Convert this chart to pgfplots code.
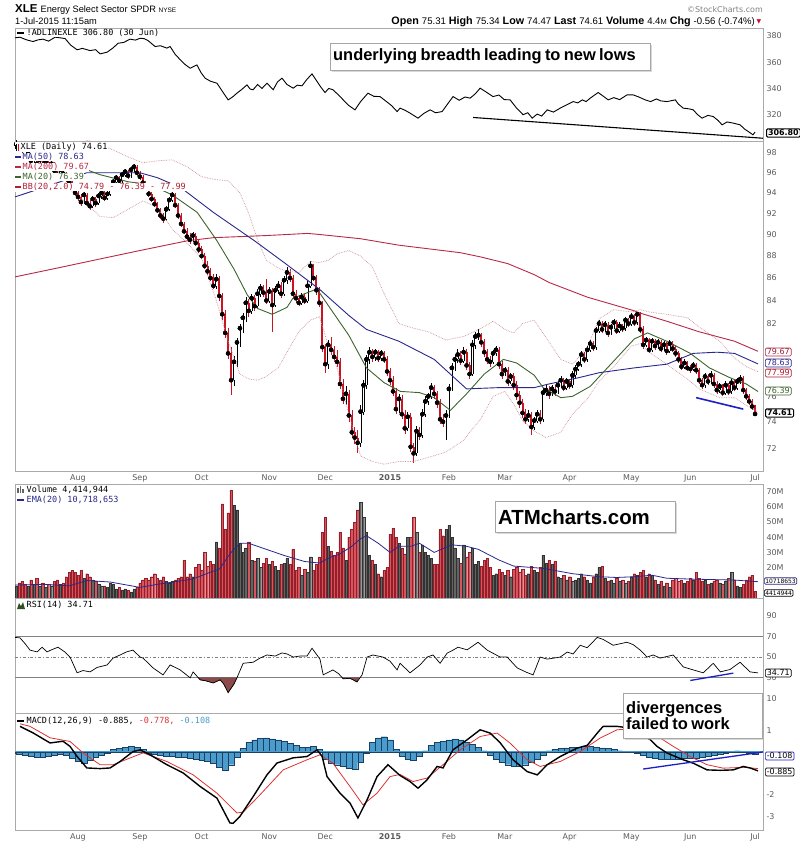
\documentclass[border=0pt]{standalone}
\usepackage{pgfplots}
\pgfplotsset{compat=1.18}
\usepackage{pgfplotstable}
\usepackage{fontspec}
\setmainfont{Liberation Sans}
\newfontfamily\dv{DejaVu Sans}
\newfontfamily\dvm{DejaVu Sans Mono}
\newfontfamily\lib{Liberation Sans}
\usetikzlibrary{shapes.symbols,shadows}
\newcommand{\tickf}{\dv\fontsize{8}{9}\selectfont}
\newcommand{\legf}{\dvm\fontsize{8.5}{10}\selectfont}
\definecolor{ma50}{RGB}{40,40,140}
\definecolor{ma200}{RGB}{185,40,70}
\definecolor{ma20}{RGB}{60,100,45}
\definecolor{bbc}{RGB}{205,140,150}
\definecolor{bbt}{RGB}{176,30,50}
\definecolor{cred}{RGB}{200,20,35}
\definecolor{vred}{RGB}{215,85,95}
\definecolor{vredd}{RGB}{150,30,40}
\definecolor{vgray}{RGB}{100,100,100}
\definecolor{vgrayd}{RGB}{50,50,50}
\definecolor{histc}{RGB}{75,155,205}
\definecolor{histd}{RGB}{25,65,100}
\definecolor{rsifill}{RGB}{140,75,75}
\definecolor{tickc}{RGB}{90,90,90}
\definecolor{framec}{RGB}{170,170,170}
\definecolor{trend}{RGB}{30,30,200}
\definecolor{sigc}{RGB}{220,50,50}

\pgfplotstableread{
i o h l c v
0 98.3 99.0 98.0 98.6 9
1 98.6 99.3 98.3 98.9 8
2 98.9 99.1 98.1 98.4 10
3 98.4 98.6 97.5 97.8 11
4 97.8 98.0 97.2 97.5 9
5 97.5 98.2 97.3 97.9 8
6 97.9 98.0 96.9 97.2 12
7 97.2 97.9 97.0 97.6 9
8 97.6 97.8 96.6 96.9 13
9 96.9 97.6 96.7 97.3 8
10 97.3 97.5 96.5 96.8 10
11 96.8 97.4 96.6 97.1 7
12 97.1 97.3 96.2 96.5 9
13 96.5 97.2 96.3 96.9 8
14 96.9 97.1 95.9 96.2 11
15 96.2 96.5 95.5 95.8 12
16 95.8 96.6 95.6 96.3 9
17 96.3 96.5 95.6 95.9 10
18 95.9 96.1 95.1 95.4 14
19 95.4 95.7 94.8 95.1 17
20 95.1 95.3 94.3 94.6 18
21 94.6 94.9 93.7 94.0 17
22 94.0 94.3 93.2 93.6 15
23 93.6 93.9 92.7 93.1 18
24 93.1 94.1 92.9 93.8 13
25 93.8 94.0 92.7 93.0 16
26 93.0 93.3 92.3 92.7 14
27 92.7 93.7 92.5 93.4 12
28 93.4 93.6 92.6 93.0 11
29 93.0 94.0 92.8 93.7 9
30 93.7 94.3 93.4 94.0 8
31 94.0 94.2 93.2 93.5 8
32 93.5 94.2 93.3 93.9 7
33 93.9 94.8 93.7 94.5 10
34 94.5 95.4 94.3 95.1 9
35 95.1 95.8 94.9 95.5 6
36 95.5 95.7 94.9 95.2 7
37 95.2 96.1 95.0 95.8 5
38 95.8 96.4 95.6 96.1 6
39 96.1 96.3 95.4 95.7 5
40 95.7 96.6 95.5 96.3 4
41 96.3 96.9 96.1 96.6 6
42 96.6 96.8 95.7 96.0 7
43 96.0 96.2 95.3 95.6 10
44 95.6 95.8 94.7 95.0 12
45 95.0 95.2 94.2 94.5 13
46 94.5 94.7 93.6 93.9 12
47 93.9 94.1 93.1 93.4 14
48 93.4 93.6 92.6 92.9 16
49 92.9 93.1 92.0 92.3 13
50 92.3 92.5 91.5 91.8 12
51 91.8 92.0 91.1 91.5 14
52 91.5 92.7 91.3 92.4 11
53 92.4 93.6 92.2 93.3 10
54 93.3 94.1 93.1 93.8 11
55 93.8 94.0 92.5 92.8 12
56 92.8 93.0 91.5 91.8 13
57 91.8 92.0 90.7 91.0 14
58 91.0 91.2 90.0 90.3 25
59 90.3 90.6 89.5 89.8 14
60 89.8 90.1 89.1 89.5 16
61 89.5 90.2 89.3 89.9 14
62 89.9 90.1 88.9 89.2 20
63 89.2 89.5 88.3 88.6 22
64 88.6 88.9 87.7 88.0 18
65 88.0 88.3 86.8 87.1 30
66 87.1 87.5 86.3 86.6 21
67 86.6 86.9 85.7 86.0 24
68 86.0 86.4 85.0 85.3 22
69 85.3 86.4 85.0 85.9 37
70 85.9 86.2 84.0 84.4 33
71 84.4 84.7 82.3 82.8 62
72 82.8 83.2 80.8 81.2 45
73 81.2 81.6 79.0 79.5 56
74 79.5 80.0 76.1 77.3 71
75 77.3 79.3 76.8 78.8 61
76 78.8 80.8 78.4 80.4 58
77 80.4 82.0 80.0 81.6 36
78 81.6 82.9 81.2 82.5 30
79 82.5 84.3 82.1 83.8 33
80 83.8 84.1 82.6 83.1 37
81 83.1 84.6 82.8 84.2 25
82 84.2 84.5 83.1 83.5 24
83 83.5 85.0 83.3 84.6 26
84 84.6 85.5 84.3 85.1 20
85 85.1 85.4 84.3 84.7 23
86 84.7 85.9 83.7 84.0 26
87 84.0 85.2 83.8 84.8 22
88 84.8 85.1 81.3 83.6 24
89 83.6 85.3 83.4 84.9 21
90 84.9 85.7 84.6 85.3 18
91 85.3 85.6 84.2 84.6 22
92 84.6 86.2 84.4 85.8 23
93 85.8 87.0 85.5 86.5 26
94 86.5 86.8 85.6 86.0 22
95 86.0 86.3 84.2 84.6 32
96 84.6 84.9 83.8 84.2 18
97 84.2 84.5 83.5 83.8 20
98 83.8 84.7 83.6 84.3 15
99 84.3 84.6 83.7 84.0 19
100 84.0 85.7 83.8 85.3 17
101 85.3 87.5 85.1 87.1 27
102 87.1 87.3 85.7 86.0 18
103 86.0 86.3 84.5 84.9 22
104 84.9 85.2 83.4 83.8 27
105 83.8 84.0 79.6 80.0 43
106 80.0 80.3 77.9 78.6 53
107 78.6 80.6 78.2 80.2 34
108 80.2 80.9 79.4 79.8 31
109 79.8 80.1 78.8 79.2 28
110 79.2 79.8 78.4 78.8 30
111 78.8 79.1 76.6 77.0 43
112 77.0 77.4 75.4 75.8 33
113 75.8 76.8 75.3 76.2 25
114 76.2 76.5 74.0 74.5 40
115 74.5 74.9 72.8 73.2 45
116 73.2 73.6 72.3 72.8 50
117 72.8 73.4 71.6 72.4 58
118 72.4 75.3 72.1 74.8 63
119 74.8 77.3 74.5 76.9 53
120 76.9 79.4 76.6 79.0 43
121 79.0 80.0 78.6 79.6 28
122 79.6 79.9 78.8 79.2 25
123 79.2 79.9 78.9 79.6 22
124 79.6 79.8 78.8 79.1 16
125 79.1 79.8 78.9 79.5 14
126 79.5 79.7 78.7 79.0 18
127 79.0 79.3 77.6 78.0 20
128 78.0 78.3 76.9 77.3 42
129 77.3 77.6 76.0 76.4 46
130 76.4 76.7 74.6 75.0 40
131 75.0 76.2 74.7 75.8 36
132 75.8 76.1 74.2 74.6 33
133 74.6 74.9 73.1 73.5 29
134 73.5 74.8 73.3 74.4 40
135 74.4 74.7 71.7 72.1 40
136 72.1 72.4 70.9 71.6 53
137 71.6 73.7 71.4 73.3 43
138 73.3 73.6 72.6 73.0 30
139 73.0 75.0 72.8 74.6 35
140 74.6 76.0 74.4 75.6 30
141 75.6 76.3 75.3 76.0 28
142 76.0 77.1 75.8 76.7 26
143 76.7 76.9 75.8 76.2 22
144 76.2 76.4 75.1 75.5 22
145 75.5 75.8 73.8 74.2 45
146 74.2 74.6 73.6 74.0 41
147 74.0 74.9 72.6 74.5 45
148 74.5 77.0 74.3 76.6 48
149 76.6 78.7 76.4 78.3 40
150 78.3 79.4 78.0 79.0 33
151 79.0 79.9 78.7 79.4 26
152 79.4 79.7 78.5 78.9 23
153 78.9 80.0 78.7 79.6 35
154 79.6 79.9 78.1 78.5 27
155 78.5 78.8 77.4 77.8 30
156 77.8 80.6 77.6 80.2 33
157 80.2 81.3 79.9 80.9 22
158 80.9 81.5 80.6 81.0 24
159 81.0 81.2 80.0 80.4 21
160 80.4 80.7 79.2 79.6 25
161 79.6 79.9 78.6 79.0 26
162 79.0 79.3 78.4 78.8 20
163 78.8 79.8 78.6 79.5 15
164 79.5 80.1 79.3 79.8 16
165 79.8 80.0 78.2 78.6 19
166 78.6 78.9 77.4 77.8 17
167 77.8 78.4 77.6 78.1 15
168 78.1 78.4 76.8 77.2 18
169 77.2 77.9 77.0 77.6 14
170 77.6 77.9 76.5 76.9 19
171 76.9 77.2 75.7 76.1 20
172 76.1 76.4 75.1 75.5 17
173 75.5 75.8 74.3 74.7 19
174 74.7 75.0 73.8 74.2 15
175 74.2 74.9 74.0 74.5 16
176 74.5 74.8 73.0 73.6 21
177 73.6 74.4 73.4 74.1 18
178 74.1 74.9 73.9 74.6 17
179 74.6 74.9 73.8 74.2 20
180 74.2 76.7 74.0 76.3 28
181 76.3 76.9 76.0 76.5 23
182 76.5 76.8 75.8 76.2 25
183 76.2 76.9 76.0 76.6 22
184 76.6 76.9 76.0 76.4 24
185 76.4 77.2 76.2 76.9 14
186 76.9 77.6 76.7 77.3 13
187 77.3 77.5 76.4 76.7 15
188 76.7 77.5 76.5 77.2 12
189 77.2 77.4 76.6 76.9 14
190 76.9 78.0 76.7 77.7 11
191 77.7 78.5 77.5 78.2 12
192 78.2 78.9 78.0 78.6 13
193 78.6 79.7 78.4 79.4 16
194 79.4 79.6 78.7 79.0 14
195 79.0 80.1 78.8 79.8 12
196 79.8 80.6 79.6 80.3 10
197 80.3 80.5 79.7 80.0 14
198 80.0 81.7 79.8 81.4 16
199 81.4 82.3 81.2 82.0 20
200 82.0 82.2 81.2 81.5 21
201 81.5 82.2 81.3 81.9 13
202 81.9 82.1 80.9 81.2 11
203 81.2 82.0 81.0 81.7 12
204 81.7 82.4 81.5 82.1 10
205 82.1 82.3 81.1 81.4 13
206 81.4 82.1 81.2 81.8 11
207 81.8 82.0 81.3 81.6 12
208 81.6 82.6 81.4 82.3 10
209 82.3 82.5 81.7 82.0 11
210 82.0 82.9 81.8 82.6 14
211 82.6 82.8 81.8 82.1 16
212 82.1 83.0 81.9 82.8 15
213 82.8 83.0 81.2 81.5 17
214 81.5 81.8 79.9 80.2 18
215 80.2 80.9 80.0 80.6 14
216 80.6 80.8 79.5 79.8 16
217 79.8 80.8 79.6 80.5 15
218 80.5 80.7 79.8 80.1 12
219 80.1 80.7 79.9 80.4 9
220 80.4 80.6 79.6 79.9 11
221 79.9 80.5 79.7 80.2 8
222 80.2 80.4 79.4 79.7 10
223 79.7 80.6 79.5 80.3 7
224 80.3 80.5 79.6 79.9 12
225 79.9 80.1 79.2 79.5 13
226 79.5 79.7 78.7 79.0 11
227 79.0 79.2 78.1 78.4 12
228 78.4 79.0 78.2 78.7 10
229 78.7 78.9 78.0 78.3 11
230 78.3 78.5 77.9 78.2 13
231 78.2 78.8 78.0 78.5 12
232 78.5 78.7 77.8 78.1 17
233 78.1 78.3 77.0 77.3 13
234 77.3 77.5 76.6 76.9 11
235 76.9 77.9 76.7 77.6 12
236 77.6 77.8 76.9 77.2 9
237 77.2 78.0 77.0 77.7 10
238 77.7 77.9 76.7 77.0 11
239 77.0 77.2 76.2 76.5 12
240 76.5 77.1 76.3 76.8 10
241 76.8 77.0 76.0 76.3 9
242 76.3 77.2 76.1 76.9 11
243 76.9 77.1 76.1 76.4 13
244 76.4 77.4 76.2 77.1 17
245 77.1 77.3 76.4 76.7 12
246 76.7 77.5 76.5 77.2 8
247 77.2 77.7 77.0 77.4 7
248 77.4 77.6 76.2 76.5 9
249 76.5 76.7 75.7 76.0 12
250 76.0 76.2 75.3 75.6 14
251 75.6 75.8 74.9 75.2 15
252 75.31 75.34 74.47 74.61 4.4
}\px

\pgfplotstableread{
i v
0.6 378.5
2.3 379
4.5 377
6.7 375.7
8.5 377
10.1 377.5
12 376
14.2 379
16 378.5
17.6 378
19.5 373
21.7 369.4
23.5 370.5
26.1 368.8
28 369.5
29.5 366.3
31.9 367.6
34 371
35.6 374.4
37.5 375
39.7 377.5
41.5 376.8
43.1 378.2
44.5 377.9
45.8 376.4
48.2 371.9
50 372.5
52.2 370.7
53.3 371.9
55 366
57.3 360.5
58.5 358
60.1 355.4
62.4 357.9
63.8 352
65.2 347.8
67 345.5
69.2 344
71 338
73 331.3
74.5 333.5
76 336.4
77.5 339
79.4 342.7
80.5 339.5
81.5 339
83 343
84.5 340
86.2 344
88.3 339
89.8 345
91.3 347.8
93 343
95.1 340.2
96.5 342.5
98.1 342
99.8 347
101.5 351.1
103 346
104.5 341
105.9 336.9
107.2 340
108.6 339
110.5 335
112.1 331.3
114 327
116.1 323.7
118 330
120.5 336.4
122.5 334
124.6 333.8
126.5 330.5
128.5 327
130.4 322.4
131.4 325
133 323.5
134.8 321.2
137.5 317.4
139.5 321
141.6 323.7
143.5 321.5
145.7 322.4
147.5 328
149.4 333.8
151.5 331
153.5 333.5
155.2 332.6
157 336
158.6 340.2
160.5 337.5
163 333.8
165 335
166.8 331.5
168.8 331.3
171 325
173.2 320
174.8 321.5
176.3 317.4
178 320.5
179.5 319
181.4 323.7
183.5 322
185.8 325
188 327.5
190.2 330
191.8 329
193.3 331.3
194.6 330
196 332.6
198.7 336.9
200.5 334
202.1 331.3
204 333
206 331.5
208.5 335.1
210.6 335.1
212.5 333.5
214.7 331.3
216.5 330
218.5 332
220 330.5
222.1 330
224.9 331.3
226 328
227.6 325
229.5 324.5
231 323.7
232.5 320
234 317.4
236 319.5
237.8 318.6
239.5 315.5
240.8 312.3
242.5 314.5
244.6 313.6
246.9 312.3
248.5 309
249.7 307.2
251.3 304.7
252 306.8
}\adl

\pgfplotstableread{
i v
0.6 86.1
15 86.9
29 87.7
43 88.5
59 89.4
68 89.7
86 89.9
100 90.1
104 90.0
118 89.6
131 89.0
152 88.3
159 87.9
168 87.3
177 86.3
182 85.6
195 84.3
211 83.1
213 82.9
222 82.2
233 81.3
245 80.5
253 79.67
}\mtwo

\pgfplotstableread{
i v
0.6 93.6
10 94.5
25 96.0
43 96.0
49 95.5
57 94.5
68 92.1
82 89.4
92 87.4
104 85.0
114 82.7
120 81.5
131 80.5
143 79.0
154 76.6
165 76.7
177 76.7
182 77.0
192 77.5
199 77.9
211 78.3
222 78.6
231 79.5
239 79.6
245 79.5
253 78.63
}\mfif

\pgfplotstableread{
i v
19 96.9
24 96.4
29.5 95.8
39 95.1
46.5 94.8
54 93.8
62.5 92.1
69 89.5
75 86.8
79.5 84.5
83 83.3
88 82.8
93 83.4
95 84.2
103 85.0
104 84.7
108 83.2
114 81.0
120 78.3
126 77.1
131.5 76.4
138 76.3
143 75.9
148.5 74.9
154 76.2
160 77.8
166.5 79.0
171 78.7
177 77.7
180 76.7
186 75.9
190 76.0
196 76.8
203 78.6
211 80.7
215.5 81.2
222 80.5
230 79.5
236.5 78.3
243.5 77.5
249 77.0
253 76.39
}\mtw

\pgfplotstableread{
i u l
19 99.6 94.4
24 99.4 93.2
29.5 98.9 91.7
34 98.3 91.6
39 97.6 92.4
44 97.0 93.2
49 97.2 92.6
54 97.3 90.5
59 96.6 89.2
64 95.6 87.8
69 95.3 84.0
73 95.2 80.5
77 94.0 77.8
80 92.0 77.4
83 89.5 77.3
86 87.6 77.6
90 86.9 78.3
93 86.6 79.6
97 86.5 81.3
101 87.5 82.3
104 87.4 82.6
107 87.6 80.2
110 88.2 78.3
114 88.5 74.6
118 88.0 71.4
122 87.0 71.0
126 84.6 70.8
131 82.0 71.0
136 81.6 71.0
141 81.3 71.3
147 80.6 71.7
153 80.9 72.6
159 81.6 74.3
163 82.2 76.0
167 81.5 76.4
170 81.2 75.4
173 82.0 74.1
177 82.3 73.3
181 80.8 72.8
186 79.0 73.2
190 78.6 74.6
195 80.0 75.8
199 82.4 77.2
204 83.2 78.4
210 83.0 80.1
213 83.2 80.3
216 83.0 79.6
222 82.8 78.6
229 82.5 77.4
233 81.7 76.6
240 80.5 75.9
245 79.1 75.9
249 78.4 75.3
253 77.99 74.79
}\bb

\pgfplotstableread{
i v
0.6 8.5
10 9.0
19 8.0
25 11.5
33 10.5
43 7.0
49 9.0
56 11.0
61 12.5
67 17
70 19
74 30
77 36
80 36
86 32
92 28
99 24
104 23
108 27
111 29
115 34
118 39
120 41
124 36
128 30
131 34
135 34
138 36
143 30
149 35
154 34
158 32
165 25
170 21
180 19.5
190 16
199 14
205 13.5
211 14
217 15
222 13
231 12.4
245 11.8
253 10.72
}\ema

\pgfplotstableread{
i v
0.6 69
2.3 68.5
4 63
5.7 56.7
8.1 55
9.8 59.5
11.5 55
13 57
15.2 59.5
17.5 55
19.3 50
21.7 34.8
23.7 37
26.1 35.7
28.5 40
31.9 42.4
33.9 49
36.3 52
38.5 55
40.7 56.7
43.1 50
44.1 49
47.5 39.5
50.9 32.8
53.3 42.4
56.7 37.6
60.1 30
61.1 35.7
63.5 28
65.5 27
67.9 25
70.3 28
71.5 24
73 15.7
75 24
76 30
78.1 44
81.5 45
83.8 49
86.2 52
89 51
91.3 54
93 53
95.1 50
97.5 51
99.8 51
101.5 58.5
104.2 48
105.3 32.8
108.6 37.6
110.5 34
112.1 29
114.4 29.5
116.8 26
118.5 32.8
120.2 50
122.2 52
125.6 50
128 46
130.4 37.6
131.4 44
134.8 34.8
138.2 42.4
140.6 50
142.6 52
145 44
147.4 53.8
149.4 56.7
151.1 59.5
154.2 57
157.9 64.3
161 56.7
165.4 50
167.8 50
171.2 39.5
174.6 35
176.6 32.8
179 50
181.4 48
185.8 50
188.2 54.8
190.2 53
192.6 61.4
195 59
198.4 69
200.4 67
203.8 61.4
208.5 64.3
210.6 62
213 56.7
215.3 50
217.4 52
219.8 49
224.2 52
227.6 40.5
231 37.6
234.4 34.8
237.8 44
240.2 35.7
243.5 38
246.9 45
250.3 35.7
253 34.71
}\rsi

\pgfplotstableread{
i v
2.3 1.18
6.7 0.88
12.5 0.41
16.9 0.49
19.3 0.25
21.7 -0.22
25 -0.75
29.5 -0.78
32.9 -0.75
36.3 -0.45
40.7 0.01
43.1 0.09
46.5 -0.14
52.2 -0.6
57.7 -0.98
63.5 -1.61
69.2 -2.15
73.6 -3.3
74.7 -3.32
77 -3.0
81.5 -2.08
86.2 -1.07
89.6 -0.52
95.1 -0.28
99.8 -0.22
103.2 0.09
104.9 -0.2
106.6 -1.15
111 -1.92
114.4 -2.38
117.1 -3.07
120.2 -2.23
123.6 -1.15
127.3 -0.6
131.4 -1.1
134.8 -1.38
137.5 -1.69
140.6 -1.3
144 -0.68
146 -0.75
149.4 0.09
154.2 0.56
158.6 1.02
162 0.87
165.4 0.42
169.8 -0.37
174.6 -0.92
178 -1.07
181.4 -0.6
185.8 -0.22
191.5 0.17
195 0.3
198.4 0.87
200.4 1.18
205.1 1.18
209.6 1.1
216.4 0.56
218.7 0.25
222.1 -0.06
227.6 -0.37
231 -0.53
235.7 -0.84
240.2 -0.86
244.6 -0.84
248 -0.68
250.3 -0.75
253 -0.885
}\macd

\pgfplotstableread{
i v
2.3 1.3
5.7 1.18
12.5 0.65
19.3 0.48
23.7 -0.05
29.5 -0.6
33.9 -0.6
44.1 -0.05
52.2 -0.45
61.1 -1.07
69.2 -1.92
76 -2.84
78.1 -2.8
83.8 -2.0
91.7 -0.84
99.8 -0.37
104.2 -0.14
108.6 -0.53
114.4 -1.61
118.8 -2.46
123.6 -1.92
128 -1.15
131.4 -1.05
135.8 -1.38
140.6 -1.22
146 -0.6
151.8 0.09
158.6 0.71
164.4 0.87
168.8 0.4
174.6 -0.37
179 -0.68
185.8 -0.45
192.6 0.01
199.4 0.64
205.1 1.02
213 1.1
219.8 0.64
224.2 0.25
230 -0.22
235.7 -0.6
241.2 -0.76
248 -0.72
253 -0.778
}\sig

\pgfplotstableread{
i v
0 -0.05
2 -0.1
4 -0.15
6 -0.2
8 -0.25
10 -0.25
12 -0.2
14 -0.15
16 -0.1
18 -0.15
20 -0.3
22 -0.45
24 -0.55
26 -0.4
28 -0.25
30 -0.15
32 -0.05
34 0.1
36 0.15
38 0.2
40 0.25
42 0.2
44 0.1
46 -0.05
48 -0.1
50 -0.15
52 -0.2
54 -0.2
56 -0.25
58 -0.25
60 -0.3
62 -0.35
64 -0.4
66 -0.45
68 -0.55
70 -0.7
72 -0.85
74 -0.6
76 -0.25
78 0.15
80 0.45
82 0.55
84 0.62
86 0.65
88 0.6
90 0.55
92 0.5
94 0.4
96 0.3
98 0.2
100 0.2
102 0.25
104 0.1
106 -0.35
108 -0.55
110 -0.6
112 -0.65
114 -0.75
116 -0.8
118 -0.5
120 -0.05
122 0.45
124 0.65
126 0.7
128 0.55
130 0.1
132 -0.2
134 -0.35
136 -0.37
138 -0.2
140 0.05
142 0.3
144 0.45
146 0.5
148 0.55
150 0.6
152 0.55
154 0.45
156 0.35
158 0.2
160 0.05
162 -0.15
164 -0.35
166 -0.5
168 -0.6
170 -0.65
172 -0.68
174 -0.6
176 -0.5
178 -0.35
180 -0.15
182 0.05
184 0.12
186 0.15
188 0.18
190 0.2
192 0.22
194 0.25
196 0.25
198 0.22
200 0.18
202 0.15
204 0.1
206 0.05
208 0.02
210 0
212 -0.05
214 -0.15
216 -0.25
218 -0.3
220 -0.33
222 -0.35
224 -0.35
226 -0.33
228 -0.3
230 -0.3
232 -0.28
234 -0.25
236 -0.2
238 -0.15
240 -0.1
242 -0.05
244 0.02
246 0.05
248 0.03
250 -0.05
252 -0.108
}\hist

\pgfplotsset{
 panel/.style={scale only axis, width=748bp, xmin=0.6, xmax=254.7,
   axis line style={draw=framec, line width=0.6bp},
   yticklabel pos=right,
   tick style={draw=none},
   yticklabel style={font=\tickf, text=tickc},
   xticklabel style={font=\tickf, text=tickc},
   xtick={22,43,64,87,106,128,148,167,189,210,230,252},
   xticklabels={},
   /pgf/number format/assume math mode=true,
   anchor=north west,
   unbounded coords=discard,
 },
 datex/.style={xticklabels={Aug,Sep,Oct,Nov,Dec,\textbf{2015},Feb,Mar,Apr,May,Jun,Jul}},
}

\tikzset{
 legn/.style={anchor=west, inner xsep=0.5bp, inner ysep=0.6bp, fill=white, font=\legf},
 vtag/.style={draw, fill=white, font=\tickf, inner xsep=1.5bp, inner ysep=1bp, anchor=west, rounded corners=1.2bp, line width=0.7bp},
 annot/.style={draw=gray!70, fill=white, anchor=north west, align=left, inner xsep=3bp,
   drop shadow={shadow xshift=1.5bp, shadow yshift=-1.5bp, fill=gray!60}},
}

\begin{document}
\begin{tikzpicture}
\path[use as bounding box] (0,0) rectangle (800bp,-844bp);

% ---------- Panel 1: breadth line
\begin{axis}[panel, at={(15bp,-28bp)}, height=113bp, ymin=300, ymax=386, ytick={320,340,360,380}]
\addplot[black, line width=0.9bp] table[x=i,y=v] {\adl};
\draw[black, line width=1.1bp] (axis cs:156.2,317.9) -- (axis cs:254.7,302.1);
\end{axis}

% ---------- Panel 2: price
\begin{axis}[panel, datex, at={(15bp,-141bp)}, height=330bp, ymode=log, ymin=70.3, ymax=99.24,
  ytick={72,74,76,78,80,82,84,86,88,90,92,94,96,98},
  yticklabels={72,74,76,{},{},82,84,86,88,90,92,94,96,98}]
% red (down) candles
\addplot[only marks, mark=none, error bars/.cd, y dir=both, y explicit, error mark=none,
  error bar style={color=cred, line width=0.5bp}]
  table[x=i, y expr={\thisrow{c}<\thisrow{o} ? \thisrow{c} : nan},
   y error plus expr={\thisrow{h}-\thisrow{c}}, y error minus expr={\thisrow{c}-\thisrow{l}}] {\px};
\addplot[only marks, mark=none, error bars/.cd, y dir=plus, y explicit, error mark=none,
  error bar style={color=cred, line width=2bp}]
  table[x=i, y expr={\thisrow{c}<\thisrow{o} ? \thisrow{c} : nan},
   y error plus expr={\thisrow{o}-\thisrow{c}}] {\px};
% black (up) candles
\addplot[only marks, mark=none, error bars/.cd, y dir=both, y explicit, error mark=none,
  error bar style={color=black, line width=0.5bp}]
  table[x=i, y expr={\thisrow{c}<\thisrow{o} ? nan : \thisrow{c}},
   y error plus expr={\thisrow{h}-\thisrow{c}}, y error minus expr={\thisrow{c}-\thisrow{l}}] {\px};
\addplot[only marks, mark=none, error bars/.cd, y dir=minus, y explicit, error mark=none,
  error bar style={color=black, line width=2.1bp}]
  table[x=i, y expr={\thisrow{c}<\thisrow{o} ? nan : \thisrow{c}},
   y error minus expr={\thisrow{c}-\thisrow{o}}] {\px};
\addplot[only marks, mark=none, error bars/.cd, y dir=minus, y explicit, error mark=none,
  error bar style={color=white, line width=1bp}]
  table[x=i, y expr={\thisrow{c}<\thisrow{o} ? nan : \thisrow{c}},
   y error minus expr={\thisrow{c}-\thisrow{o}}] {\px};
% overlays
\addplot[bbc, densely dotted, line width=0.7bp] table[x=i,y=u] {\bb};
\addplot[bbc, densely dotted, line width=0.7bp] table[x=i,y=l] {\bb};
\addplot[ma200, line width=0.9bp] table[x=i,y=v] {\mtwo};
\addplot[ma50, line width=0.9bp] table[x=i,y=v] {\mfif};
\addplot[ma20, line width=0.9bp] table[x=i,y=v] {\mtw};
\draw[trend, line width=1.6bp] (axis cs:232,75.9) -- (axis cs:248,75.0);
\end{axis}

% ---------- Panel 3: volume
\begin{axis}[panel, at={(15bp,-484bp)}, height=114bp, ymin=0, ymax=75,
  ytick={20,30,40,50,60,70}, yticklabels={20M,30M,40M,50M,60M,70M}]
\addplot[ybar, bar width=2.3bp, fill=vred, draw=vredd, line width=0.3bp]
  table[x=i, y expr={\thisrow{c}<\thisrow{o} ? \thisrow{v} : nan}] {\px};
\addplot[ybar, bar width=2.3bp, fill=vgray, draw=vgrayd, line width=0.3bp]
  table[x=i, y expr={\thisrow{c}<\thisrow{o} ? nan : \thisrow{v}}] {\px};
\addplot[ma50, line width=0.8bp] table[x=i,y=v] {\ema};
\end{axis}

% ---------- Panel 4: RSI
\begin{axis}[panel, at={(15bp,-598bp)}, height=115bp, ymin=-4, ymax=107, ytick={10,30,50,70,90}]
\addplot[gray, line width=0.7bp] coordinates {(0.6,70) (254.7,70)};
\addplot[gray, line width=0.7bp] coordinates {(0.6,30) (254.7,30)};
\addplot[gray, line width=0.7bp, dash dot] coordinates {(0.6,50) (254.7,50)};
\addplot[fill=rsifill, draw=rsifill!70!black, line width=0.4bp] coordinates {(62.9,30) (63.5,28) (65.5,27) (67.9,25) (70.3,28) (71.5,24) (73,15.7) (75,24) (76,30)} -- cycle;
\addplot[fill=rsifill, draw=rsifill!70!black, line width=0.4bp] coordinates {(111.8,30) (112.1,29) (114.4,29.5) (116.8,26) (117.4,30)} -- cycle;
\addplot[black, line width=0.7bp] table[x=i,y=v] {\rsi};
\draw[trend, line width=1.3bp] (axis cs:230,27.4) -- (axis cs:244.6,34.5);
\end{axis}

% ---------- Panel 5: MACD
\begin{axis}[panel, datex, at={(15bp,-713bp)}, height=117bp, ymin=-3.63, ymax=1.8, ytick={-3,-2,-1,0,1},
  yticklabels={-3,-2,{},{},1}]
\addplot[ybar, bar width=5.886bp, fill=histc, draw=histd, line width=0.3bp] table[x=i,y=v] {\hist};
\addplot[histc, line width=0.6bp] coordinates {(0.6,0) (254.7,0)};
\addplot[sigc, line width=0.8bp] table[x=i,y=v] {\sig};
\addplot[black, line width=1.4bp] table[x=i,y=v] {\macd};
\draw[trend, line width=1.3bp] (axis cs:214,-0.80) -- (axis cs:254.7,-0.01);
\end{axis}

% ---------- header
\node[anchor=base west, inner sep=0] at (15bp,-12bp) {\lib\fontsize{11.5}{12}\selectfont\bfseries XLE\ \mdseries\fontsize{9.3}{11}\selectfont Energy Select Sector SPDR \fontsize{6.5}{8}\selectfont NYSE};
\node[anchor=base west, inner sep=0] at (15bp,-24bp) {\lib\fontsize{9.3}{10}\selectfont 1-Jul-2015 11:15am};
\node[anchor=base east, inner sep=0] at (763bp,-12bp) {\dv\fontsize{8}{9}\selectfont\color{gray}\textcopyright StockCharts.com};
\node[anchor=base east, inner sep=0] at (755bp,-24bp) {\lib\fontsize{10.8}{12}\selectfont
 \textbf{Open} {\fontsize{9.6}{11}\selectfont 75.31} \textbf{High} {\fontsize{9.6}{11}\selectfont 75.34} \textbf{Low} {\fontsize{9.6}{11}\selectfont 74.47} \textbf{Last} {\fontsize{9.6}{11}\selectfont 74.61} \textbf{Volume} {\fontsize{9.6}{11}\selectfont 4.4\fontsize{7.5}{8}\selectfont M} \textbf{Chg} {\fontsize{9.6}{11}\selectfont -0.56 (-0.74\%)}};
\node[anchor=base west, inner sep=0, text=cred] at (756.5bp,-23bp) {\dv\fontsize{6}{7}\selectfont ▼};

% ---------- legends
\draw[line width=1.5bp] (17bp,-33bp) -- (24bp,-33bp);
\node[legn] at (26bp,-33bp) {!ADLINEXLE 306.80 (30 Jun)};

\fill[white] (15.4bp,-142bp) rectangle (22bp,-192bp);
\node[legn] at (20bp,-147bp) {XLE (Daily) 74.61};
\draw[line width=0.5bp] (16bp,-143.5bp) -- (16bp,-150.5bp);
\fill (15.2bp,-145bp) rectangle (16.8bp,-149bp);
\draw[cred, line width=0.5bp] (18.5bp,-143.5bp) -- (18.5bp,-150.5bp);
\fill[cred] (17.7bp,-144.5bp) rectangle (19.3bp,-148.5bp);
\draw[ma50, line width=1.5bp] (15bp,-157bp) -- (21bp,-157bp);
\node[legn, text=ma50] at (22bp,-157bp) {MA(50) 78.63};
\draw[ma200, line width=1.5bp] (15bp,-167bp) -- (21bp,-167bp);
\node[legn, text=ma200] at (22bp,-167bp) {MA(200) 79.67};
\draw[ma20, line width=1.5bp] (15bp,-177bp) -- (21bp,-177bp);
\node[legn, text=ma20] at (22bp,-177bp) {MA(20) 76.39};
\draw[bbt, line width=1.5bp] (15bp,-187bp) -- (21bp,-187bp);
\node[legn, text=bbt] at (22bp,-187bp) {BB(20,2.0) 74.79 - 76.39 - 77.99};

\fill[vgray] (17bp,-493bp) rectangle (18.5bp,-488bp);
\fill[vgray] (19.5bp,-493bp) rectangle (21bp,-486bp);
\fill[vgray] (22bp,-493bp) rectangle (23.5bp,-489bp);
\node[legn] at (26bp,-490bp) {Volume 4,414,944};
\draw[ma50, line width=1.5bp] (17bp,-500bp) -- (24bp,-500bp);
\node[legn, text=ma50] at (26bp,-500bp) {EMA(20) 10,718,653};

\fill[ma20!80!black] (17bp,-609bp) -- (19bp,-603bp) -- (21bp,-606bp) -- (23bp,-602bp) -- (25bp,-609bp) -- cycle;
\node[legn] at (26bp,-605bp) {RSI(14) 34.71};

\draw[line width=1.5bp] (17bp,-721bp) -- (24bp,-721bp);
\node[legn] at (26bp,-721bp) {MACD(12,26,9) -0.885, {\color{sigc}-0.778,} {\color{histc}-0.108}};

% ---------- value tags
\node[vtag, draw=black, line width=1bp] at (766bp,-133bp) {\bfseries 306.80};
\node[vtag, draw=ma200, text=ma200!80!black] at (765bp,-352bp) {79.67};
\node[vtag, draw=ma50, text=ma50] at (765bp,-363bp) {78.63};
\node[vtag, draw=bbt, text=bbt] at (765bp,-373bp) {77.99};
\node[vtag, draw=ma20, text=ma20] at (765bp,-391bp) {76.39};
\node[vtag, draw=black, line width=1bp] at (765bp,-413bp) {\bfseries 74.61};
\node[vtag, draw=ma50, font=\dv\fontsize{6}{7}\selectfont, inner xsep=1bp] at (764bp,-581bp) {10718653};
\node[vtag, draw=black, font=\dv\fontsize{6}{7}\selectfont, inner xsep=1bp] at (764bp,-593bp) {4414944};
\node[vtag, draw=black] at (765bp,-673bp) {34.71};
\node[vtag, draw=trend] at (765bp,-756bp) {-0.108};
\node[vtag, draw=black] at (765bp,-772bp) {-0.885};

% ---------- annotation boxes
\node[annot, text width=314bp, minimum height=27bp] at (330bp,-43bp) {\lib\fontsize{16.5}{18}\selectfont\bfseries underlying breadth leading to new lows};
\node[annot, text width=174bp, minimum height=31bp] at (495bp,-501bp) {\lib\fontsize{20.5}{22}\selectfont\bfseries ATMcharts.com};
\node[annot, text width=133bp, minimum height=45bp] at (623bp,-693bp) {\lib\fontsize{16.5}{20}\selectfont\bfseries divergences\\failed to work};

\end{tikzpicture}
\end{document}
